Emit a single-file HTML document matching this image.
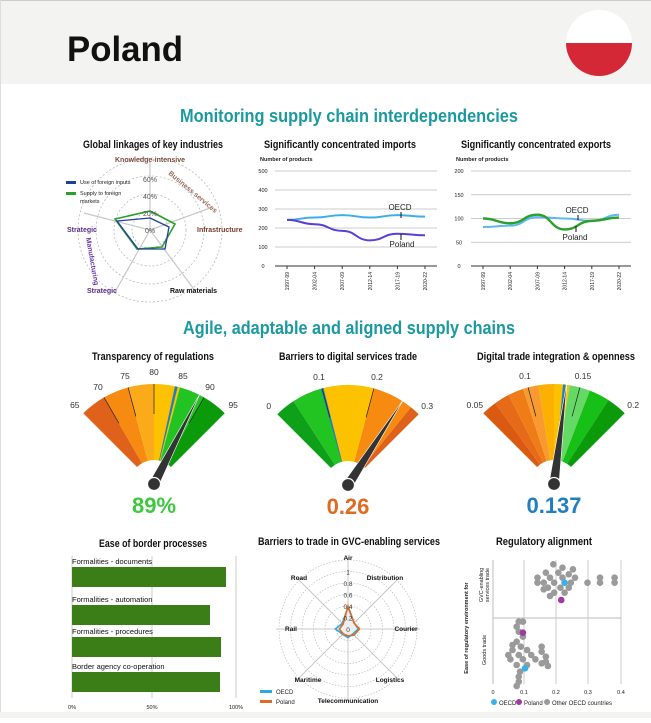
<!DOCTYPE html>
<html><head><meta charset="utf-8">
<style>
html,body{margin:0;padding:0;background:#fff;}
body{width:651px;height:718px;overflow:hidden;font-family:"Liberation Sans",sans-serif;}
svg text{font-family:"Liberation Sans",sans-serif;}
</style></head>
<body>
<svg id="s" width="651" height="718" viewBox="0 0 651 718" xmlns="http://www.w3.org/2000/svg">
<rect x="0" y="0" width="651" height="718" fill="#fff"/>
<rect x="0" y="0" width="651" height="84" fill="#f3f3f2"/>
<line x1="0" y1="0.5" x2="651" y2="0.5" stroke="#ccc"/>
<line x1="0.5" y1="0" x2="0.5" y2="718" stroke="#ddd"/>
<rect x="0" y="712" width="651" height="6" fill="#f3f3f2"/>
<text x="67" y="61" font-size="35" font-weight="bold" fill="#111" textLength="116" lengthAdjust="spacingAndGlyphs">Poland</text>
<clipPath id="fc"><ellipse cx="599" cy="43" rx="33" ry="33"/></clipPath>
<g clip-path="url(#fc)"><rect x="560" y="5" width="80" height="38" fill="#fff"/><rect x="560" y="43" width="80" height="40" fill="#d52836"/></g>
<text x="349" y="122" font-size="18" font-weight="bold" fill="#1a9aa0" text-anchor="middle" textLength="338" lengthAdjust="spacingAndGlyphs">Monitoring supply chain interdependencies</text>
<text x="349" y="334" font-size="18" font-weight="bold" fill="#1a9aa0" text-anchor="middle" textLength="332" lengthAdjust="spacingAndGlyphs">Agile, adaptable and aligned supply chains</text>
<g font-weight="bold" font-size="11" fill="#111" text-anchor="middle">
<text x="153" y="148" textLength="140" lengthAdjust="spacingAndGlyphs">Global linkages of key industries</text>
<text x="340" y="148" textLength="152" lengthAdjust="spacingAndGlyphs">Significantly concentrated imports</text>
<text x="536" y="148" textLength="150" lengthAdjust="spacingAndGlyphs">Significantly concentrated exports</text>
<text x="153" y="360" textLength="122" lengthAdjust="spacingAndGlyphs">Transparency of regulations</text>
<text x="348" y="360" textLength="138" lengthAdjust="spacingAndGlyphs">Barriers to digital services trade</text>
<text x="556" y="360" textLength="158" lengthAdjust="spacingAndGlyphs">Digital trade integration &amp; openness</text>
<text x="153" y="547" textLength="108" lengthAdjust="spacingAndGlyphs">Ease of border processes</text>
<text x="349" y="545" textLength="182" lengthAdjust="spacingAndGlyphs">Barriers to trade in GVC-enabling services</text>
<text x="544" y="545" textLength="96" lengthAdjust="spacingAndGlyphs">Regulatory alignment</text>
</g>
<g id="dyn"></g>
</svg>
<script>
var NS="http://www.w3.org/2000/svg",g=document.getElementById("dyn");
function el(t,a,txt){var e=document.createElementNS(NS,t);for(var k in a)e.setAttribute(k,a[k]);if(txt!==undefined)e.textContent=txt;g.appendChild(e);return e;}
function T(x,y,s,txt,o){var a={x:x,y:y,"font-size":s,fill:"#222"};for(var k in o)a[k]=o[k];return el("text",a,txt);}
var cx=150,cy=230;
[18,36,54,72].forEach(function(r){el("circle",{cx:cx,cy:cy,r:r,fill:"none",stroke:"#bbb","stroke-dasharray":"2,2","stroke-width":0.8});});
var ends=[[150,162],[210,208],[196,292],[115,292],[84,213]];
ends.forEach(function(p){el("line",{x1:cx,y1:cy,x2:p[0],y2:p[1],stroke:"#c8c8c8","stroke-width":1.2});});
el("polygon",{points:"150,211 175,224 162,247 137,249 115,219",fill:"none",stroke:"#2ca02c","stroke-width":1.6});
el("polygon",{points:"150,218 169,227 165,249 138,249 117,221",fill:"none",stroke:"#1f3f9a","stroke-width":1.3});
[["0%",230],["20%",213],["40%",196],["60%",179]].forEach(function(a){T(150,a[1]+3,7,a[0],{"text-anchor":"middle",fill:"#555"});});
T(150,162,7,"Knowledge-intensive",{"text-anchor":"middle","font-weight":"bold",fill:"#7a4a3a"});
T(168,174,7,"Business services",{"font-weight":"bold",fill:"#9a6a5a",transform:"rotate(40 168 174)"});
T(197,232,7,"Infrastructure",{"font-weight":"bold",fill:"#7a3a2a"});
T(67,232,7,"Strategic",{"font-weight":"bold",fill:"#5a2a8a"});
T(86,238,7,"Manufacturing",{"font-weight":"bold",fill:"#6a3aa0",transform:"rotate(80 86 238)"});
T(87,293,7,"Strategic",{"font-weight":"bold",fill:"#5a2a8a"});
T(170,293,7,"Raw materials",{"font-weight":"bold",fill:"#111"});
el("rect",{x:66,y:181,width:10,height:3,fill:"#1f3f9a"});T(80,184,5.5,"Use of foreign inputs");
el("rect",{x:66,y:192,width:10,height:3,fill:"#2ca02c"});T(80,195,5.5,"Supply to foreign");T(80,203,5.5,"markets");
function lineChart(x0,x1,max,labs,series){
 var y0=266,yt=171;
 for(var i=0;i<labs.length;i++){var v=labs[i],y=y0-(v/max)*(y0-yt);
  el("line",{x1:x0,y1:y,x2:x1,y2:y,stroke:i==0?"#333":"#bbb","stroke-width":i==0?1:0.8});
  T(x0-12,y+2,5.5,String(v),{"text-anchor":"middle"});}
 var yrs=["1997-99","2002-04","2007-09","2012-14","2017-19","2020-22"];
 var xs=[];for(var j=0;j<6;j++){var x=x0+12+j*(x1-x0-24)/5;xs.push(x);el("line",{x1:x,y1:y0,x2:x,y2:y0+3,stroke:"#333"});
  T(x+2,y0+6,5,yrs[j],{transform:"rotate(-90 "+(x+2)+" "+(y0+6)+")","text-anchor":"end"});}
 series.forEach(function(s){var d="";for(var j=0;j<6;j++){var y=y0-(s.v[j]/max)*(y0-yt);
  if(j==0)d="M"+xs[0]+","+y;else{var px=xs[j-1],py=y0-(s.v[j-1]/max)*(y0-yt),mx=(px+xs[j])/2;d+=" C"+mx+","+py+" "+mx+","+y+" "+xs[j]+","+y;}}
  el("path",{d:d,fill:"none",stroke:s.c,"stroke-width":s.w||2});});
 T(x0-15,161,5.5,"Number of products",{"font-weight":"bold"});
 return xs;}
lineChart(275,437,500,[0,100,200,300,400,500],[{v:[243,255,268,255,268,260],c:"#3daee9"},{v:[243,220,185,135,170,162],c:"#5b3fd6"}]);
T(400,210,8,"OECD",{"text-anchor":"middle"});el("line",{x1:401,y1:212,x2:401,y2:218,stroke:"#111"});
T(402,247,8,"Poland",{"text-anchor":"middle"});el("line",{x1:401,y1:234,x2:401,y2:240,stroke:"#111"});
lineChart(471,631,200,[0,50,100,150,200],[{v:[82,85,103,100,95,108],c:"#5bb8f0"},{v:[100,90,108,77,95,102],c:"#2ca02c",w:2.4}]);
T(577,213,8,"OECD",{"text-anchor":"middle"});el("line",{x1:578,y1:215,x2:578,y2:220,stroke:"#111"});
T(575,240,8,"Poland",{"text-anchor":"middle"});el("line",{x1:576,y1:226,x2:576,y2:232,stroke:"#111"});
function pt(cx,cy,r,a){var t=a*Math.PI/180;return [cx+r*Math.sin(t),cy-r*Math.cos(t)];}
function wedge(cx,cy,a0,a1,c){var R=100,r=24,p1=pt(cx,cy,R,a0),p2=pt(cx,cy,R,a1),p3=pt(cx,cy,r,a1),p4=pt(cx,cy,r,a0);
 el("path",{d:"M"+p1+" A"+R+","+R+" 0 0 1 "+p2+" L"+p3+" A"+r+","+r+" 0 0 0 "+p4+"Z",fill:c});}
function gauge(cx,cy,lo,hi,bands,ticks,tickLines,val,oecd,txt,tc){
 var f=function(v){return -45+90*(v-lo)/(hi-lo);};
 bands.forEach(function(b){wedge(cx,cy,f(b[0]),f(b[1]),b[2]);});
 wedge(cx,cy,f(oecd)-0.8,f(oecd)+0.8,"#1f7fc0");
 tickLines.forEach(function(v){var a=pt(cx,cy,100,f(v)),b=pt(cx,cy,70,f(v));el("line",{x1:a[0],y1:a[1],x2:b[0],y2:b[1],stroke:"#222","stroke-width":0.7});});
 ticks.forEach(function(t){var p=pt(cx,cy,112,f(t[0]));T(p[0],p[1]+3,8.5,t[1],{"text-anchor":"middle",fill:"#333"});});
 var a=f(val),tip=pt(cx,cy,103,a),b1=[cx+5*Math.cos(a*Math.PI/180),cy+5*Math.sin(a*Math.PI/180)],b2=[cx-5*Math.cos(a*Math.PI/180),cy-5*Math.sin(a*Math.PI/180)];
 el("polygon",{points:tip+" "+b1+" "+b2,fill:"#333",stroke:"#fff","stroke-width":0.6});
 el("circle",{cx:cx,cy:cy,r:6.5,fill:"#333",stroke:"#fff","stroke-width":1.2});
 T(cx,cy+29,22,txt,{"text-anchor":"middle","font-weight":"bold",fill:tc});}
gauge(154,484,65,95,[[65,70,"#e0621a"],[70,75,"#f78a10"],[75,80,"#fbab1a"],[80,85,"#fcc200"],[85,90,"#22c422"],[90,95,"#0a9a0a"]],
 [[65,"65"],[70,"70"],[75,"75"],[80,"80"],[85,"85"],[90,"90"],[95,"95"]],[70,75,80,90],89,84.3,"89%","#3ec83e");
gauge(348,485,0,0.3,[[0,0.04,"#0fa01a"],[0.04,0.098,"#22c422"],[0.098,0.2,"#fcc200"],[0.2,0.28,"#f78a10"],[0.28,0.3,"#e0621a"]],
 [[0,"0"],[0.1,"0.1"],[0.2,"0.2"],[0.3,"0.3"]],[0.1,0.2],0.26,0.1,"0.26","#e06a20");
gauge(554,484,0.05,0.2,[[0.05,0.065,"#d95a10"],[0.065,0.08,"#e66a18"],[0.08,0.095,"#f07c18"],[0.095,0.11,"#f99a30"],[0.11,0.125,"#fcb000"],[0.125,0.14,"#fcc200"],[0.14,0.16,"#66d866"],[0.16,0.18,"#16c016"],[0.18,0.2,"#0a9a0a"]],
 [[0.05,"0.05"],[0.1,"0.1"],[0.15,"0.15"],[0.2,"0.2"]],[0.1,0.15],0.137,0.135,"0.137","#1f7fc0");
[72,152,236].forEach(function(x,i){el("line",{x1:x,y1:556,x2:x,y2:698,stroke:"#ccc"});T(x,709,5.5,["0%","50%","100%"][i],{"text-anchor":"middle"});});
[["Formalities - documents",567,226],["Formalities - automation",605,210],["Formalities - procedures",637,221],["Border agency co-operation",672,220]].forEach(function(b){
 el("rect",{x:72,y:b[1],width:b[2]-72,height:20,fill:"#3b7d17"});T(72,b[1]-3,7.5,b[0],{fill:"#111"});});
var rx=348,ry=629;
for(var k=1;k<=6;k++)el("circle",{cx:rx,cy:ry,r:k*11.5,fill:"none",stroke:"#bbb","stroke-dasharray":"1.5,1.5","stroke-width":0.7});
var names=["Air","Distribution","Courier","Logistics","Telecommunication","Maritime","Rail","Road"];
var lp=[[348,560],[385,580],[406,631],[390,682],[348,703],[308,682],[291,631],[299,580]];
for(k=0;k<8;k++){var p=pt(rx,ry,72,k*45);el("line",{x1:rx,y1:ry,x2:p[0],y2:p[1],stroke:"#c8c8c8","stroke-width":1});
 T(lp[k][0],lp[k][1],6.5,names[k],{"text-anchor":"middle","font-weight":"bold",fill:"#111"});}
function poly(v,c,fill){var s="";for(var k=0;k<8;k++){s+=pt(rx,ry,v[k]*57.5,k*45)+" ";}el("polygon",{points:s,fill:fill,stroke:c,"stroke-width":1.6});}
poly([0.38,0.15,0.18,0.12,0.15,0.13,0.22,0.14],"#2aa8e8","#eee");
poly([0.4,0.15,0.2,0.15,0.12,0.12,0.15,0.12],"#e06a2a","none");
[["0",0],["0.2",0.2],["0.4",0.4],["0.6",0.6],["0.8",0.8],["1",1]].forEach(function(a){T(348,ry-a[1]*57.5+3,6.5,a[0],{"text-anchor":"middle",fill:"#333"});});
el("rect",{x:260,y:690,width:12,height:3,fill:"#2aa8e8"});T(276,694,6,"OECD");
el("rect",{x:260,y:700,width:12,height:3,fill:"#e06a2a"});T(276,704,6,"Poland");
[524,556,588,621].forEach(function(x){el("line",{x1:x,y1:560,x2:x,y2:684,stroke:"#ccc"});});
el("line",{x1:493,y1:560,x2:493,y2:684,stroke:"#bbb"});el("line",{x1:493,y1:618,x2:621,y2:618,stroke:"#bbb"});
[["0",493],["0.1",524],["0.2",556],["0.3",588],["0.4",621]].forEach(function(a){T(a[1],694,5.5,a[0],{"text-anchor":"middle"});});
T(468,628,5.5,"Ease of regulatory environment for",{transform:"rotate(-90 468 628)","text-anchor":"middle","font-weight":"bold"});
T(483,585,5.5,"GVC-enabling",{transform:"rotate(-90 483 585)","text-anchor":"middle"});
T(489,585,5.5,"services trade",{transform:"rotate(-90 489 585)","text-anchor":"middle"});
T(486,650,5.5,"Goods trade",{transform:"rotate(-90 486 650)","text-anchor":"middle"});
var pts=[[1328,103],[1350,113],[1375,118],[1310,128],[1340,128],[1365,133],[1290,143],[1320,143],[1350,143],[1380,143],[1305,158],[1330,158],[1370,158],[1410,158],[1440,143],[1440,158],[1475,143],[1475,158],[1290,158],[1315,173],[1345,173],[1365,173],[1305,178],[1330,188],[1355,188],[1320,198],
[1245,275],[1255,275],[1240,290],[1245,305],[1255,320],[1240,335],[1250,350],[1230,360],[1265,360],[1220,375],[1245,375],[1275,375],[1300,350],[1300,365],[1225,388],[1255,388],[1285,388],[1310,380],[1310,395],[1240,405],[1265,405],[1315,408],[1248,425],[1245,440],[1245,455],[1240,468],[1300,400],[1230,345]];
pts.forEach(function(p){el("circle",{cx:p[0]/2.4,cy:530+p[1]/3,r:3.3,fill:"#9a9a9a"});});
el("circle",{cx:1355/2.4,cy:530+158/3,r:3.3,fill:"#3ab0e8"});
el("circle",{cx:1260/2.4,cy:530+415/3,r:3.3,fill:"#3ab0e8"});
el("circle",{cx:1347/2.4,cy:530+210/3,r:3.3,fill:"#a03aa0"});
el("circle",{cx:1255/2.4,cy:530+308/3,r:3.3,fill:"#a03aa0"});
[[494,"#3ab0e8","OECD"],[519,"#a03aa0","Poland"],[547,"#9a9a9a","Other OECD countries"]].forEach(function(a){el("circle",{cx:a[0],cy:702,r:3,fill:a[1]});T(a[0]+5,705,6,a[2]);});
</script>
</body></html>
